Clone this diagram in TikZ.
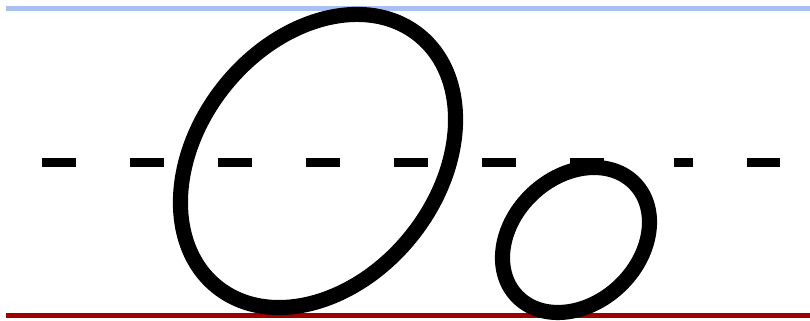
\documentclass[tikz,border=0pt]{standalone}
\definecolor{topblue}{RGB}{170,192,242}
\definecolor{floorred}{RGB}{160,0,0}

\begin{document}
\begin{tikzpicture}[
  boundary/.style={line width=1.42pt, line cap=butt},
  midline/.style={line width=2.3pt, black, line cap=butt,
    dash pattern={on 0.34cm off 0.54cm on 0.34cm off 0.54cm on 0.34cm off 0.54cm
      on 0.34cm off 0.54cm on 0.34cm off 0.54cm on 0.34cm off 0.54cm
      on 0.34cm off 0.70cm on 0.19cm off 0.54cm on 0.34cm off 0.54cm}},
  blob/.style={line width=4.3pt, black}
]
\useasboundingbox (0,0) rectangle (8.10,3.21);

% === Upper and lower limits ===
\draw[boundary, topblue] (0.06,3.128) -- (8.10,3.128);
\draw[boundary, floorred] (0.06,0.052) -- (8.10,0.052);

% === Middle dashed line ===
\draw[midline] (0.42,1.585) -- (7.80,1.585);

% === Large tilted ellipse ===
\draw[blob, rotate around={51.3:(3.18,1.60)}] (3.18,1.60) ellipse [x radius=1.614, y radius=1.198];

% === Small tilted ellipse ===
\draw[blob, rotate around={43.4:(5.76,0.81)}] (5.76,0.81) ellipse [x radius=0.815, y radius=0.634];

\end{tikzpicture}
\end{document}
